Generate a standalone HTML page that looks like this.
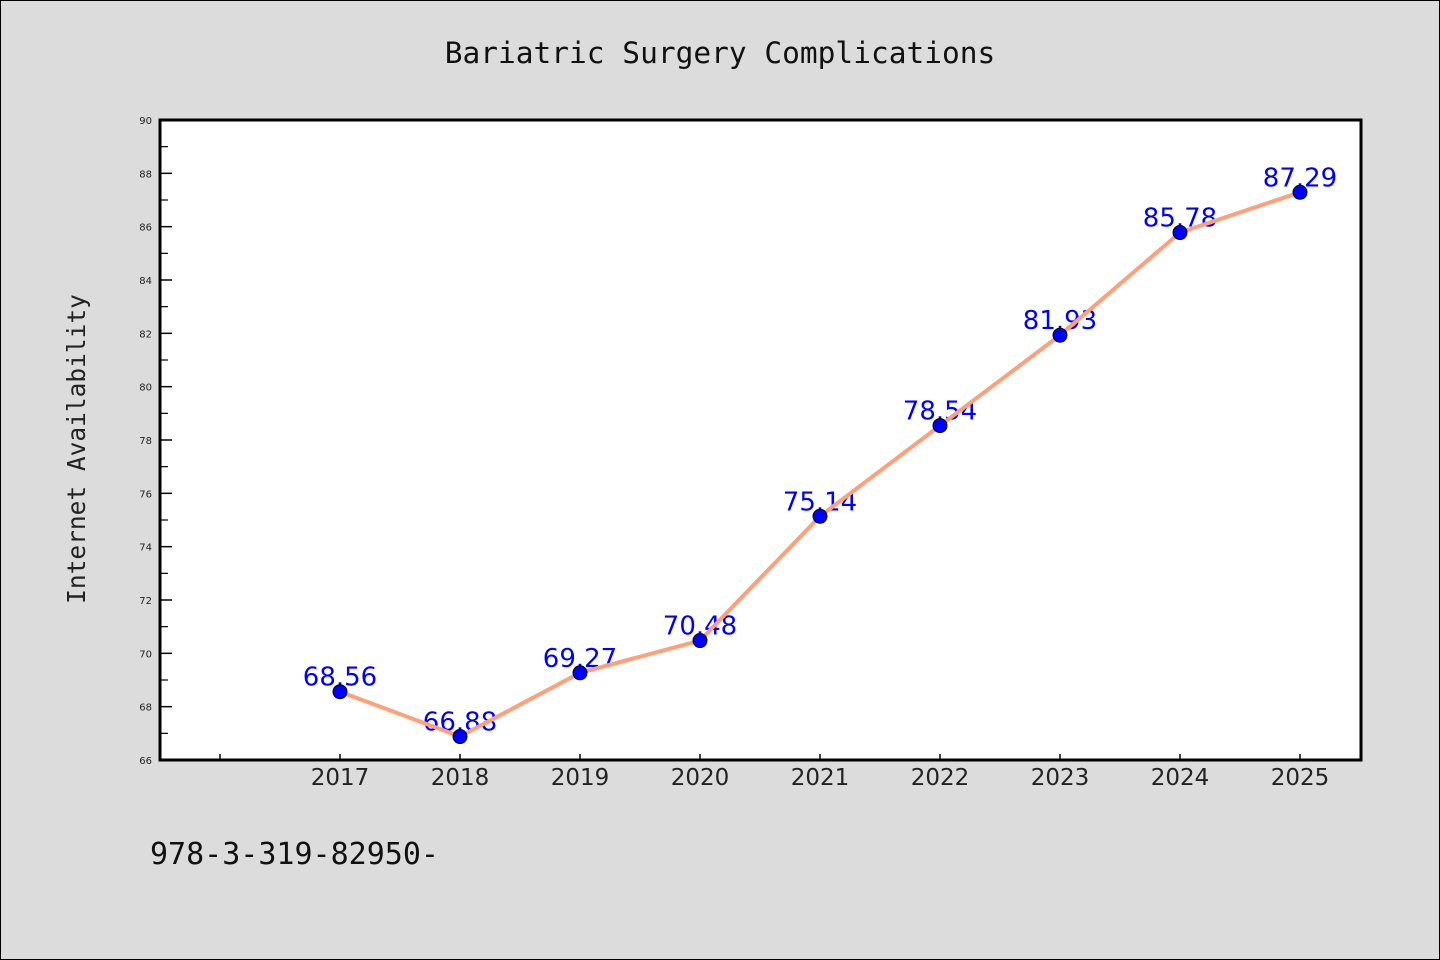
<!DOCTYPE html>
<html><head><meta charset="utf-8"><style>
body{margin:0;background:#dcdcdc;}
svg{display:block;}
</style></head><body>
<svg width="1440" height="960" xmlns="http://www.w3.org/2000/svg">
<rect x="0.5" y="0.5" width="1439" height="959" fill="#dcdcdc" stroke="#000"/>
<text x="720" y="63" text-anchor="middle" font-family="'DejaVu Sans Mono','WenQuanYi Zen Hei',monospace" font-size="29.5" fill="#111">Bariatric Surgery Complications</text>
<text transform="translate(85,449) rotate(-90)" text-anchor="middle" font-family="'DejaVu Sans Mono','WenQuanYi Zen Hei',monospace" font-size="24.5" fill="#222">Internet Availability</text>
<text x="150" y="864" font-family="'DejaVu Sans Mono','WenQuanYi Zen Hei',monospace" font-size="30" fill="#111">978-3-319-82950-</text>
<rect x="160" y="120" width="1201" height="640" fill="#fff"/>
<g id="axes"></g>
<g id="marks"></g>
<rect x="160" y="120" width="1201" height="640" fill="none" stroke="#000" stroke-width="3"/>
</svg>
<script>
const years = [2017,2018,2019,2020,2021,2022,2023,2024,2025];
const values = [68.56,66.88,69.27,70.48,75.14,78.54,81.93,85.78,87.29];
const labels = ["68.56","66.88","69.27","70.48","75.14","78.54","81.93","85.78","87.29"];
const yTicks = [66,68,70,72,74,76,78,80,82,84,86,88,90];
const xTicks = [2016,2017,2018,2019,2020,2021,2022,2023,2024,2025];
const NS="http://www.w3.org/2000/svg";
const X=v=>340+(v-2017)*120;
const Y=v=>760-(v-66)*(640/24);
function mk(t,a,p){const e=document.createElementNS(NS,t);for(const k in a)e.setAttribute(k,a[k]);p.appendChild(e);return e;}
const ax=document.getElementById('axes'), mg=document.getElementById('marks');
yTicks.forEach(v=>{
  const y=Y(v);
  const t=mk('line',{x1:160,x2:172,y1:y,y2:y,stroke:'#000','stroke-width':1.5},ax);
  
  
  const l=mk('text',{x:152,y:y+4,'text-anchor':'end','font-family':'DejaVu Sans,sans-serif','font-size':10,fill:'#222'},ax);
  l.textContent=v;
  
  
  if(v<90){const m=mk('line',{x1:160,x2:168,y1:y-640/24,y2:y-640/24,stroke:'#000','stroke-width':1.2},ax);
    
    }
});
xTicks.forEach(v=>{
  const x=X(v);
  const t=mk('line',{x1:x,x2:x,y1:760,y2:754,stroke:'#000','stroke-width':1.5},ax);
  
  
  if(v>=2017){const l=mk('text',{x:x,y:785,'text-anchor':'middle','font-family':'DejaVu Sans,sans-serif','font-size':23,fill:'#222'},ax);
    l.textContent=v;
    
    }
});
years.forEach((yr,i)=>{
  const l=mk('text',{x:X(yr),y:Y(values[i])-6,'text-anchor':'middle','font-family':'DejaVu Sans,sans-serif','font-size':26,fill:'#0000ff'},mg);
  l.textContent=labels[i];
  
  
});
const pl=mk('polyline',{points:years.map((yr,i)=>X(yr)+','+Y(values[i])).join(' '),fill:'none',stroke:'#ffa07a','stroke-width':4,'stroke-linejoin':'round'},mg);


years.forEach((yr,i)=>{
  const c=mk('circle',{cx:X(yr),cy:Y(values[i]),r:7,fill:'#0000ff',stroke:'#000','stroke-width':1},mg);
  
  
});
</script>
</body></html>
